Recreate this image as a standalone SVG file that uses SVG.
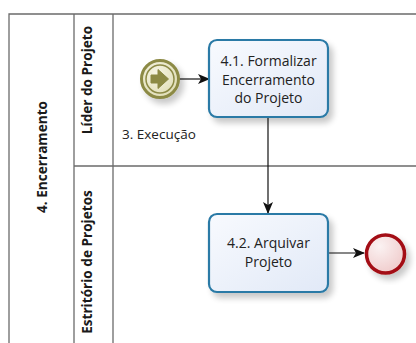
<svg xmlns="http://www.w3.org/2000/svg" width="416" height="343" viewBox="0 0 416 343">
  <style>
    .frame { stroke: #6b6b6b; stroke-width: 1.3; fill: none; }
    .lane-label { font-family: "Open Sans", "Noto Sans", sans-serif; font-weight: bold; font-size: 13.6px; fill: #1a1a1a; text-anchor: middle; }
    .task { fill: url(#taskFill); stroke: #2a7aa6; stroke-width: 2.2; filter: url(#shadow); }
    .task-text { font-family: "Open Sans", "Noto Sans", sans-serif; font-size: 14px; fill: #222; text-anchor: middle; }
    .label { font-family: "Open Sans", "Noto Sans", sans-serif; font-size: 13.5px; fill: #222; }
    .flow { stroke: #111; stroke-width: 1.2; fill: none; marker-end: url(#arrow); }
  </style>
  <defs>
    <linearGradient id="taskFill" x1="0" y1="0" x2="1" y2="1">
      <stop offset="0" stop-color="#f8fafe"/>
      <stop offset="1" stop-color="#e1e9f7"/>
    </linearGradient>
    <radialGradient id="endFill" cx="0.35" cy="0.3" r="0.8">
      <stop offset="0" stop-color="#fbf2f2"/>
      <stop offset="1" stop-color="#efc9c9"/>
    </radialGradient>
    <radialGradient id="startFill" cx="0.4" cy="0.35" r="0.8">
      <stop offset="0" stop-color="#f6f5e4"/>
      <stop offset="1" stop-color="#dcd9ad"/>
    </radialGradient>
    <filter id="shadow" x="-20%" y="-20%" width="150%" height="150%">
      <feGaussianBlur in="SourceAlpha" stdDeviation="3"/>
      <feOffset dx="4" dy="5" result="b"/>
      <feComponentTransfer><feFuncA type="linear" slope="0.22"/></feComponentTransfer>
      <feMerge><feMergeNode/><feMergeNode in="SourceGraphic"/></feMerge>
    </filter>
    <marker id="arrow" viewBox="0 0 12 10" refX="11" refY="5" markerWidth="12" markerHeight="10" markerUnits="userSpaceOnUse" orient="auto">
      <path d="M0,0 L12,5 L0,10 L3,5 Z" fill="#111"/>
    </marker>
  </defs>

  <!-- pool and lanes -->
  <g id="pool">
    <path class="frame" d="M9,343 V14 H416 M74,14 V343 M113,14 V343 M74,166 H416"/>
    <text class="lane-label" transform="translate(46.5,157) rotate(-90)">4. Encerramento</text>
  </g>
  <g id="lane-lider">
    <text class="lane-label" transform="translate(92,80) rotate(-90)">Líder do Projeto</text>
  </g>
  <g id="lane-escritorio">
    <text class="lane-label" transform="translate(92,262) rotate(-90)">Estritório de Projetos</text>
  </g>

  <!-- connectors -->
  <g id="connectors">
    <path class="flow" d="M179,79 H209"/>
    <path class="flow" d="M268,118 V213"/>
    <path class="flow" d="M329,253 H364"/>
  </g>

  <g id="start-event">
    <circle cx="160" cy="79" r="18.5" fill="url(#startFill)" stroke="#8c8a45" stroke-width="3" filter="url(#shadow)"/>
    <circle cx="160" cy="79" r="14" fill="none" stroke="#8c8a45" stroke-width="1.5"/>
    <path d="M151,75 H158 V69.5 L168.5,79 L158,88.5 V83 H151 Z" fill="#8c8a45" stroke="#8c8a45" stroke-width="1" stroke-linejoin="round"/>
    <text class="label" x="122" y="139">3. Execução</text>
  </g>

  <g id="task-4-1">
    <rect class="task" x="209" y="40" width="119" height="77" rx="8"/>
    <text class="task-text" x="268.5" y="66">4.1. Formalizar</text>
    <text class="task-text" x="268.5" y="84.5">Encerramento</text>
    <text class="task-text" x="268.5" y="103">do Projeto</text>
  </g>

  <g id="task-4-2">
    <rect class="task" x="209" y="214" width="119" height="78" rx="8"/>
    <text class="task-text" x="268.5" y="248">4.2. Arquivar</text>
    <text class="task-text" x="268.5" y="267">Projeto</text>
  </g>

  <g id="end-event">
    <circle cx="385.5" cy="254" r="19" fill="url(#endFill)" stroke="#a30d12" stroke-width="3.5" filter="url(#shadow)"/>
  </g>
</svg>
